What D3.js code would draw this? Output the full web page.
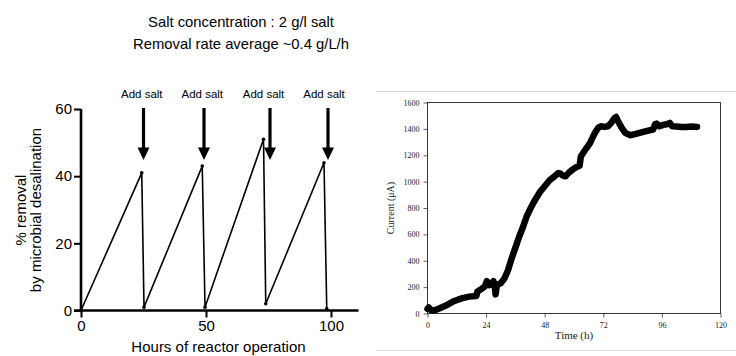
<!DOCTYPE html>
<html>
<head>
<meta charset="utf-8">
<script src="https://cdn.jsdelivr.net/npm/d3@7"></script>
<style>
  body { margin: 0; background: #fff; }
  svg { display: block; }
</style>
</head>
<body>
<div id="chart"></div>
<script>
// left panel: % removal sawtooth
const removalHours = [0, 24.3, 25.2, 48.5, 49.6, 73, 73.9, 97.2, 98.3];
const removalPct = [0, 41, 1, 43, 1, 51, 2, 44, 0.5];
const addSaltHours = [25, 49.2, 75.6, 98.8];   // arrows
const addSaltLabelHours = [24.3, 48.5, 73, 97.2];
const leftXTicks = [0, 50, 100];
const leftYTicks = [0, 20, 40, 60];

// right panel: current vs time
const currentTime = [0, 0.5, 1.5, 3, 5, 8, 11, 14, 17, 20, 20.4, 22, 23.5, 24.3, 25.2, 26.3, 27, 27.6, 27.9, 28.4,
  30, 31.5, 33, 34.5, 36, 37.5, 39, 40.5, 42, 44, 46, 48, 50, 52, 53.5, 54.5, 55.5, 56.5, 58, 59.7,
  61, 62.3, 62.8, 64.5, 66.5, 67.5, 68.6, 70, 71, 72.5, 74, 75.4, 76.5, 77.2, 78, 79.5, 81, 82.9, 85, 88,
  90, 92.4, 93.2, 93.8, 95, 96.5, 98, 99.3, 100.2, 102, 104, 106, 108, 110.4];
const currentUA = [35, 45, 25, 25, 40, 65, 95, 115, 128, 132, 165, 185, 205, 245, 215, 222, 245, 200, 145, 215,
  230, 265, 330, 420, 500, 580, 650, 730, 790, 860, 920, 965, 1010, 1040, 1065, 1060, 1045, 1040, 1070, 1095,
  1110, 1120, 1190, 1238, 1290, 1330, 1370, 1410, 1420, 1415, 1420, 1450, 1480, 1490, 1460, 1410, 1370, 1352, 1360, 1375,
  1385, 1395, 1435, 1440, 1420, 1430, 1435, 1445, 1420, 1418, 1415, 1415, 1418, 1415];
const rightXTicks = [0, 24, 48, 72, 96, 120];
const rightYTicks = [0, 200, 400, 600, 800, 1000, 1200, 1400, 1600];

const W = 736, H = 356;
const SANS = "'Liberation Sans', Arial, sans-serif";
const SERIF = "'Liberation Serif', 'Times New Roman', serif";

const svg = d3.select('#chart').append('svg')
    .attr('width', W)
    .attr('height', H);

// titles
const title = svg.append('g')
    .attr('font-family', SANS)
    .attr('font-size', 14.8)
    .attr('text-anchor', 'middle');
title.append('text').attr('x', 241).attr('y', 27).text('Salt concentration : 2 g/l salt');
title.append('text').attr('x', 241).attr('y', 49).text('Removal rate average ~0.4 g/L/h');

// ---------- left chart ----------
const xL = d3.scaleLinear().domain([0, 111]).range([81, 358.5]);
const yL = d3.scaleLinear().domain([0, 60]).range([310.5, 109]);

const gL = svg.append('g').attr('font-family', SANS);

const xAxisL = gL.append('g')
    .attr('transform', `translate(0,${yL(0)})`)
    .call(d3.axisBottom(xL).tickValues(leftXTicks).tickSize(7).tickPadding(3));
xAxisL.select('.domain').attr('d', `M${xL(0) - 7},0H${xL(111)}`).attr('stroke-width', 2.6);
xAxisL.selectAll('.tick line').attr('stroke-width', 2);
xAxisL.selectAll('.tick text').attr('font-size', 15).attr('font-family', SANS).attr('fill', '#000');

const yAxisL = gL.append('g')
    .attr('transform', `translate(${xL(0)},0)`)
    .call(d3.axisLeft(yL).tickValues(leftYTicks).tickSize(7).tickPadding(2));
yAxisL.select('.domain').attr('d', `M0,${yL(60)}V${yL(0)}`).attr('stroke-width', 2.6);
yAxisL.selectAll('.tick line').attr('stroke-width', 2);
yAxisL.selectAll('.tick text').attr('font-size', 15).attr('font-family', SANS).attr('fill', '#000');

gL.append('text')
    .attr('x', xL(55))
    .attr('y', 352)
    .attr('text-anchor', 'middle')
    .attr('font-size', 15)
    .text('Hours of reactor operation');

const yLab = gL.append('text')
    .attr('transform', 'translate(27,210) rotate(-90)')
    .attr('text-anchor', 'middle')
    .attr('font-size', 15);
yLab.append('tspan').attr('x', 0).attr('dy', '-0.05em').text('% removal');
yLab.append('tspan').attr('x', 0).attr('dy', '1em').text('by microbial desalination');

const removal = removalHours.map((h, i) => ({h: h, v: removalPct[i]}));
gL.append('path')
    .datum(removal)
    .attr('fill', 'none')
    .attr('stroke', '#000')
    .attr('stroke-width', 1.6)
    .attr('d', d3.line().x(d => xL(d.h)).y(d => yL(d.v)));
gL.selectAll('.dot')
    .data(removal)
    .enter().append('circle')
    .attr('cx', d => xL(d.h))
    .attr('cy', d => yL(d.v))
    .attr('r', 1.8)
    .attr('fill', '#000');

// add salt arrows
const arrows = gL.selectAll('.arrow')
    .data(addSaltHours)
    .enter().append('g');
arrows.append('line')
    .attr('x1', d => xL(d)).attr('x2', d => xL(d))
    .attr('y1', yL(60.3)).attr('y2', yL(48))
    .attr('stroke', '#000')
    .attr('stroke-width', 3.2);
arrows.append('path')
    .attr('d', d => `M${xL(d) - 6},${yL(48.5)}L${xL(d) + 6},${yL(48.5)}L${xL(d)},${yL(44.8)}Z`)
    .attr('fill', '#000');
gL.selectAll('.salt-label')
    .data(addSaltLabelHours)
    .enter().append('text')
    .attr('x', d => xL(d))
    .attr('y', 98)
    .attr('text-anchor', 'middle')
    .attr('font-size', 11.5)
    .text('Add salt');

// ---------- right chart ----------
const xR = d3.scaleLinear().domain([0, 120]).range([427.5, 720.5]);
const yR = d3.scaleLinear().domain([0, 1600]).range([313.5, 102.5]);

// pale frame lines of the pasted figure
svg.append('line').attr('x1', 376).attr('x2', 736).attr('y1', 91.5).attr('y2', 91.5)
    .attr('stroke', '#dcdcdc').attr('stroke-width', 1);
svg.append('line').attr('x1', 376).attr('x2', 736).attr('y1', 350.5).attr('y2', 350.5)
    .attr('stroke', '#dcdcdc').attr('stroke-width', 1);

const gR = svg.append('g').attr('font-family', SERIF);

const xAxisR = gR.append('g')
    .attr('transform', `translate(0,${yR(0)})`)
    .call(d3.axisBottom(xR).tickValues(rightXTicks).tickFormat(d3.format('d')).tickSize(4).tickPadding(5));
const yAxisR = gR.append('g')
    .attr('transform', `translate(${xR(0)},0)`)
    .call(d3.axisLeft(yR).tickValues(rightYTicks).tickFormat(d3.format('d')).tickSize(4).tickPadding(4));
[xAxisR, yAxisR].forEach(a => {
    a.select('.domain').remove();
    a.selectAll('.tick line').attr('stroke', '#333').attr('stroke-width', 0.8);
    a.selectAll('.tick text').attr('font-size', 8).attr('font-family', SERIF).attr('fill', '#222');
});

gR.append('rect')
    .attr('x', xR(0)).attr('y', yR(1600))
    .attr('width', xR(120) - xR(0)).attr('height', yR(0) - yR(1600))
    .attr('fill', 'none')
    .attr('stroke', '#222')
    .attr('stroke-width', 0.9);

gR.append('text')
    .attr('x', xR(60))
    .attr('y', 339)
    .attr('text-anchor', 'middle')
    .attr('font-size', 11)
    .attr('fill', '#222')
    .text('Time (h)');
gR.append('text')
    .attr('transform', `translate(394,${yR(800)}) rotate(-90)`)
    .attr('text-anchor', 'middle')
    .attr('font-size', 10)
    .attr('fill', '#222')
    .text('Current (μA)');

const current = currentTime.map((t, i) => ({t: t, v: currentUA[i]}));
gR.append('path')
    .datum(current)
    .attr('fill', 'none')
    .attr('stroke', '#000')
    .attr('stroke-width', 6.5)
    .attr('stroke-linejoin', 'round')
    .attr('stroke-linecap', 'round')
    .attr('d', d3.line().x(d => xR(d.t)).y(d => yR(d.v)));
</script>
</body>
</html>
